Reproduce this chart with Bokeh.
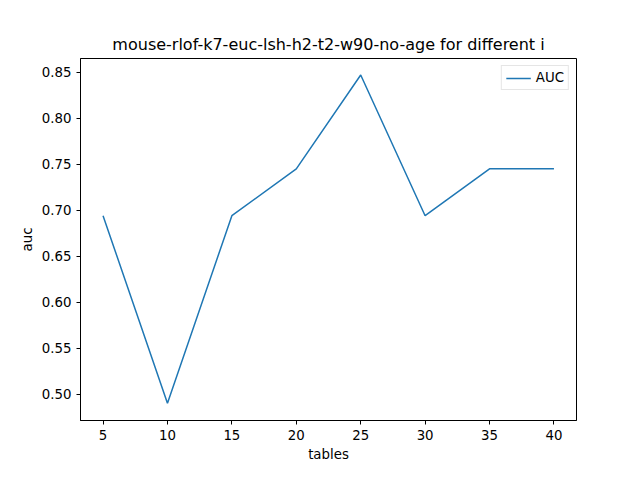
from bokeh.plotting import figure
from bokeh.models import Range1d, FixedTicker, CustomJSTickFormatter
from bokeh.embed import file_html
from bokeh.resources import INLINE

tables = [5, 10, 15, 20, 25, 30, 35, 40]
auc = [0.694, 0.490, 0.694, 0.745, 0.847, 0.694, 0.745, 0.745]
y_ticks = [0.50, 0.55, 0.60, 0.65, 0.70, 0.75, 0.80, 0.85]

p = figure(width=624, height=464, output_backend="svg", toolbar_location=None,
           title="mouse-rlof-k7-euc-lsh-h2-t2-w90-no-age for different i",
           x_range=Range1d(3.25, 41.75), y_range=Range1d(0.4712, 0.865),
           x_axis_label="tables", y_axis_label="auc",
           min_border_left=80, min_border_right=48, min_border_top=58, min_border_bottom=37)

p.line(tables, auc, line_color="#1f77b4", line_width=1.5, legend_label="AUC")

p.title.align = "center"
p.title.text_font = "DejaVu Sans"
p.title.text_font_size = "12pt"
p.title.text_font_style = "normal"
p.title.text_color = "black"
p.xgrid.visible = False
p.ygrid.visible = False
p.outline_line_color = "black"
p.xaxis.ticker = FixedTicker(ticks=tables)
p.yaxis.ticker = FixedTicker(ticks=y_ticks)
p.yaxis.formatter = CustomJSTickFormatter(code="return tick.toFixed(2);")
for ax in (p.xaxis, p.yaxis):
    ax.major_tick_in = 0
    ax.major_tick_out = 4
    ax.minor_tick_line_color = None
    ax.axis_line_color = "black"
    ax.major_tick_line_color = "black"
    ax.major_label_text_color = "black"
    ax.axis_label_text_color = "black"
    ax.major_label_text_font = "DejaVu Sans"
    ax.major_label_text_font_size = "10pt"
    ax.axis_label_text_font = "DejaVu Sans"
    ax.axis_label_text_font_size = "10pt"
    ax.axis_label_text_font_style = "normal"
    ax.axis_label_standoff = 4

p.legend.location = "top_right"
p.legend.label_text_font = "DejaVu Sans"
p.legend.label_text_font_size = "10pt"
p.legend.label_text_color = "black"
p.legend.border_line_color = "#cccccc"
p.legend.glyph_width = 25
p.legend.padding = 4
p.legend.spacing = 0
p.legend.label_height = 14
p.legend.glyph_height = 14
p.legend.margin = 7

open("out.html", "w").write(file_html(p, INLINE))
